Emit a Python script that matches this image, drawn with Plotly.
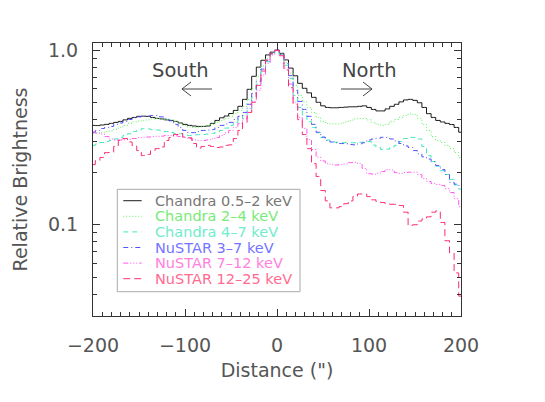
import plotly.graph_objects as go

distance = list(range(-200, 205, 5))

chandra_05_2 = [0.371, 0.370, 0.373, 0.376, 0.381, 0.386, 0.391, 0.399, 0.407, 0.412,
                0.418, 0.419, 0.418, 0.412, 0.407, 0.404, 0.399, 0.396, 0.391, 0.383,
                0.376, 0.371, 0.368, 0.366, 0.366, 0.368, 0.381, 0.396, 0.410, 0.420,
                0.434, 0.452, 0.477, 0.523, 0.597, 0.709, 0.800, 0.876, 0.940, 0.975,
                1.000, 0.960, 0.880, 0.790, 0.714, 0.646, 0.605, 0.570, 0.537, 0.503,
                0.480, 0.470, 0.468, 0.468, 0.470, 0.472, 0.474, 0.474, 0.477, 0.480,
                0.470, 0.458, 0.449, 0.449, 0.461, 0.477, 0.490, 0.506, 0.519, 0.523,
                0.516, 0.500, 0.470, 0.433, 0.412, 0.396, 0.388, 0.381, 0.375, 0.361,
                0.339]

chandra_2_4 = [0.334, 0.336, 0.338, 0.342, 0.345, 0.352, 0.361, 0.371, 0.381, 0.388,
               0.392, 0.396, 0.399, 0.404, 0.406, 0.404, 0.401, 0.399, 0.391, 0.383,
               0.371, 0.363, 0.361, 0.362, 0.366, 0.371, 0.376, 0.386, 0.396, 0.407,
               0.418, 0.434, 0.452, 0.477, 0.523, 0.605, 0.709, 0.810, 0.900, 0.960,
               1.000, 0.950, 0.850, 0.740, 0.629, 0.551, 0.506, 0.470, 0.440, 0.412,
               0.391, 0.381, 0.378, 0.378, 0.380, 0.388, 0.396, 0.404, 0.407, 0.406,
               0.399, 0.386, 0.376, 0.371, 0.376, 0.391, 0.401, 0.412, 0.423, 0.433,
               0.429, 0.407, 0.376, 0.347, 0.320, 0.304, 0.296, 0.285, 0.273, 0.259,
               0.243]

chandra_4_7 = [0.285, 0.290, 0.296, 0.300, 0.304, 0.310, 0.316, 0.325, 0.332, 0.342,
               0.349, 0.355, 0.354, 0.351, 0.349, 0.347, 0.342, 0.338, 0.334, 0.332,
               0.327, 0.325, 0.327, 0.328, 0.329, 0.331, 0.334, 0.340, 0.347, 0.358,
               0.371, 0.386, 0.401, 0.423, 0.464, 0.537, 0.638, 0.760, 0.860, 0.950,
               1.000, 0.945, 0.820, 0.690, 0.551, 0.470, 0.423, 0.391, 0.361, 0.337,
               0.316, 0.306, 0.300, 0.297, 0.295, 0.295, 0.295, 0.295, 0.297, 0.297,
               0.300, 0.286, 0.277, 0.270, 0.271, 0.279, 0.285, 0.300, 0.312, 0.317,
               0.316, 0.310, 0.281, 0.249, 0.230, 0.217, 0.204, 0.194, 0.182, 0.169,
               0.160]

nustar_3_7 = [0.339, 0.347, 0.356, 0.361, 0.366, 0.376, 0.383, 0.391, 0.401, 0.410,
              0.415, 0.418, 0.420, 0.423, 0.423, 0.415, 0.407, 0.394, 0.376, 0.361,
              0.347, 0.338, 0.337, 0.342, 0.347, 0.349, 0.351, 0.361, 0.371, 0.378,
              0.386, 0.401, 0.418, 0.440, 0.490, 0.566, 0.664, 0.780, 0.870, 0.955,
              1.000, 0.945, 0.840, 0.715, 0.589, 0.509, 0.458, 0.418, 0.376, 0.339,
              0.318, 0.304, 0.298, 0.295, 0.292, 0.291, 0.288, 0.287, 0.291, 0.295,
              0.306, 0.310, 0.313, 0.317, 0.316, 0.310, 0.302, 0.292, 0.283, 0.277,
              0.266, 0.255, 0.245, 0.238, 0.230, 0.218, 0.207, 0.194, 0.175, 0.171,
              0.168]

nustar_7_12 = [0.339, 0.335, 0.331, 0.320, 0.310, 0.306, 0.306, 0.306, 0.308, 0.312,
               0.316, 0.317, 0.318, 0.320, 0.321, 0.322, 0.325, 0.325, 0.323, 0.320,
               0.316, 0.312, 0.306, 0.304, 0.304, 0.306, 0.311, 0.316, 0.325, 0.336,
               0.347, 0.361, 0.381, 0.404, 0.440, 0.509, 0.590, 0.720, 0.840, 0.940,
               1.000, 0.935, 0.790, 0.640, 0.503, 0.412, 0.356, 0.308, 0.270, 0.244,
               0.232, 0.224, 0.221, 0.220, 0.221, 0.223, 0.227, 0.228, 0.224, 0.210,
               0.196, 0.195, 0.197, 0.202, 0.207, 0.206, 0.199, 0.197, 0.199, 0.200,
               0.200, 0.194, 0.184, 0.177, 0.172, 0.170, 0.168, 0.161, 0.153, 0.141,
               0.127]

nustar_12_25 = [0.221, 0.233, 0.243, 0.259, 0.260, 0.281, 0.304, 0.312, 0.298, 0.285,
                0.266, 0.249, 0.253, 0.266, 0.273, 0.279, 0.304, 0.316, 0.329, 0.334,
                0.318, 0.315, 0.292, 0.275, 0.281, 0.285, 0.281, 0.277, 0.279, 0.285,
                0.287, 0.312, 0.347, 0.386, 0.440, 0.503, 0.629, 0.760, 0.880, 0.960,
                1.000, 0.930, 0.770, 0.610, 0.490, 0.400, 0.329, 0.273, 0.224, 0.189,
                0.157, 0.137, 0.125, 0.125, 0.127, 0.132, 0.137, 0.145, 0.150, 0.150,
                0.145, 0.139, 0.136, 0.134, 0.132, 0.131, 0.131, 0.129, 0.118, 0.099,
                0.100, 0.105, 0.108, 0.111, 0.118, 0.120, 0.103, 0.081, 0.069, 0.053,
                0.039]

series_names = ["Chandra 0.5–2 keV", "Chandra 2–4 keV", "Chandra 4–7 keV",
                "NuSTAR 3–7 keV", "NuSTAR 7–12 keV", "NuSTAR 12–25 keV"]
series_values = [chandra_05_2, chandra_2_4, chandra_4_7, nustar_3_7, nustar_7_12, nustar_12_25]
line_colors = ["#1a1a1a", "#5cf05c", "#3ee8b8", "#5050ff", "#ff55f0", "#ff2d6e"]
text_colors = ["#777777", "#78ea78", "#70eccc", "#7474ff", "#ff80e0", "#ff6a90"]
dashes = ["solid", "1px,2px", "5px,4px", "5px,3px,1px,3px",
          "5px,2px,1px,2px,1px,2px,1px,2px", "7px,4px"]

x_ticks = [-200, -100, 0, 100, 200]
y_ticks = [0.1, 1.0]
y_tick_text = ["0.1", "1.0"]
y_minor = [0.03, 0.04, 0.05, 0.06, 0.07, 0.08, 0.09, 0.2, 0.3, 0.4, 0.5, 0.6, 0.7, 0.8, 0.9]

FONT = "DejaVu Sans, sans-serif"
TXT = "#555555"
AX = "#333333"

fig = go.Figure()
for name, vals, lc, dsh in zip(series_names, series_values, line_colors, dashes):
    fig.add_trace(go.Scatter(
        x=distance, y=vals, mode="lines", line_shape="hvh",
        line=dict(color=lc, width=1, dash=dsh), name=name, showlegend=False,
    ))

axis_common = dict(
    showgrid=False, zeroline=False, showline=True, linecolor=AX, linewidth=1,
    mirror="allticks", ticks="inside", ticklen=7, tickcolor=AX, tickwidth=1,
    tickfont=dict(family=FONT, size=19, color=TXT), automargin=False,
)

fig.update_xaxes(
    range=[-200, 200], tickvals=x_ticks, ticklabelstandoff=12,
    minor=dict(ticks="inside", ticklen=4, dtick=10, tickcolor=AX, showgrid=False),
    title=dict(text="Distance (\")", font=dict(family=FONT, size=19, color=TXT), standoff=8),
    **axis_common,
)
fig.update_yaxes(
    type="log", range=[-1.5229, 0.0414], tickvals=y_ticks, ticktext=y_tick_text,
    ticklabelstandoff=10,
    minor=dict(ticks="inside", ticklen=4, tickvals=y_minor, tickcolor=AX, showgrid=False),
    title=dict(text="Relative Brightness", font=dict(family=FONT, size=19, color=TXT), standoff=15),
    **axis_common,
)

# Direction labels and arrows
for label, lx in [("South", -105), ("North", 100)]:
    fig.add_annotation(x=lx, y=0.8985, xref="x", yref="paper", text=label, showarrow=False,
                       xanchor="center", yanchor="middle",
                       font=dict(family=FONT, size=19.5, color="#444444"))
arrow_style = dict(color="#444444", width=1)
for x0, x1, xh in [(-70.7, -103.3, -93.5), (69.6, 103.3, 93.5)]:
    fig.add_shape(type="line", xref="x", yref="paper", x0=x0, x1=x1, y0=0.8315, y1=0.8315, line=arrow_style)
    fig.add_shape(type="line", xref="x", yref="paper", x0=x1, x1=xh, y0=0.8315, y1=0.857, line=arrow_style)
    fig.add_shape(type="line", xref="x", yref="paper", x0=x1, x1=xh, y0=0.8315, y1=0.806, line=arrow_style)

# Legend box drawn in paper coordinates
fig.add_shape(type="rect", xref="paper", yref="paper", x0=0.066, x1=0.5625, y0=0.089, y1=0.464,
              line=dict(color="#aaaaaa", width=1), fillcolor="rgba(0,0,0,0)")
for i, (name, lc, tc, dsh) in enumerate(zip(series_names, line_colors, text_colors, dashes)):
    yy = 0.4223 - i * 0.05714
    fig.add_shape(type="line", xref="paper", yref="paper", x0=0.0823, x1=0.1323, y0=yy, y1=yy,
                  line=dict(color=lc, width=1, dash=dsh))
    fig.add_annotation(x=0.1622, y=yy, xref="paper", yref="paper", text=name, showarrow=False,
                       xanchor="left", yanchor="middle",
                       font=dict(family=FONT, size=14.5, color=tc))

fig.update_layout(
    width=545, height=402,
    margin=dict(l=93, r=84, t=43, b=86),
    paper_bgcolor="white", plot_bgcolor="white",
    font=dict(family=FONT, color=TXT),
    showlegend=False,
)

fig.write_html("out.html", config={"displayModeBar": False},
               post_script="document.body.style.margin='0px';document.body.style.padding='0px';")
